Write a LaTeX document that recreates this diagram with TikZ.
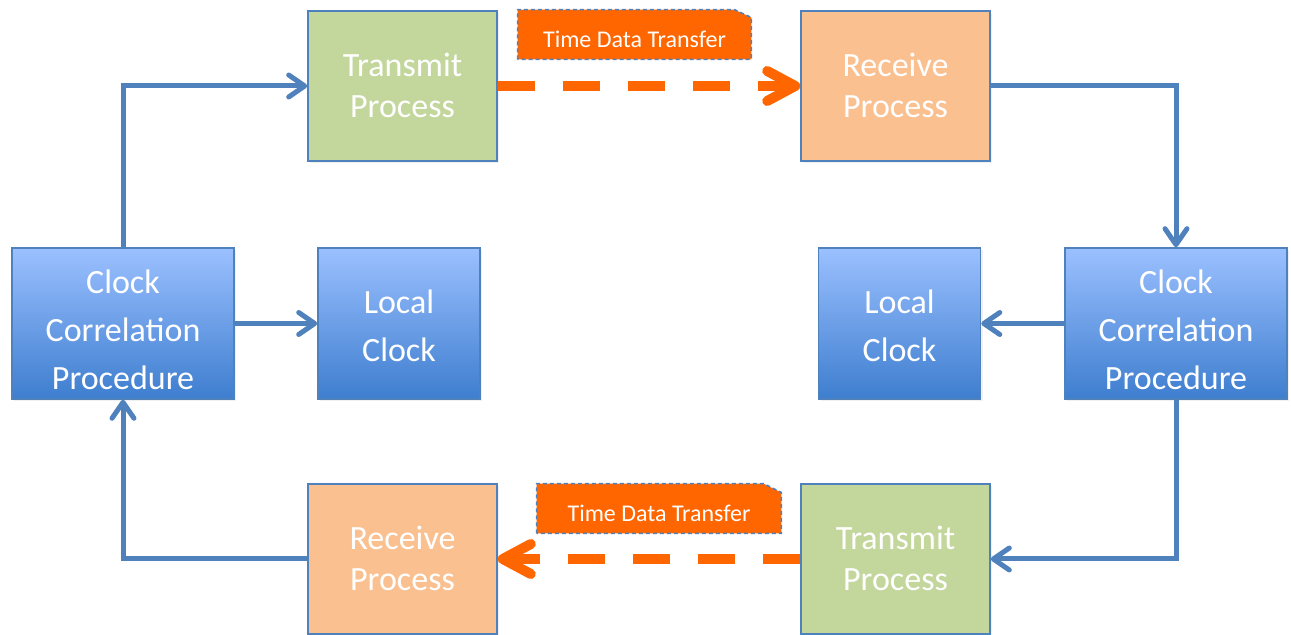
\documentclass[tikz,border=0pt]{standalone}
\usepackage{fontspec}
\setmainfont{Carlito}
\usetikzlibrary{arrows.meta,calc,shadows,backgrounds}
\definecolor{linkblue}{RGB}{79,129,189}
\definecolor{txgreen}{RGB}{195,214,155}
\definecolor{rxorange}{RGB}{250,192,144}
\definecolor{clktop}{RGB}{155,192,255}
\definecolor{clkbottom}{RGB}{62,126,207}
\definecolor{xferorange}{RGB}{255,102,0}

\begin{document}
\begin{tikzpicture}[x=0.5pt,y=-0.5pt,
		blk/.style={draw=linkblue,line width=0.8pt,inner sep=0pt,text=white,align=center,font=\fontsize{17}{24}\selectfont,minimum height=75pt,text height=38.2pt,text depth=0pt,drop shadow={opacity=0.12,shadow xshift=1pt,shadow yshift=-1pt}},
		txbox/.style={blk,fill=txgreen,minimum width=94.5pt,font=\fontsize{17}{20.5}\selectfont,text height=31.3pt},
		rxbox/.style={blk,fill=rxorange,minimum width=94.5pt,font=\fontsize{17}{20.5}\selectfont,text height=31.3pt},
		clkbox/.style={blk,top color=clktop,bottom color=clkbottom,minimum height=75.5pt},
		link/.style={draw=linkblue,line width=2.5pt,-{Straight Barb[length=8pt,width=11pt,round]}},
		xfer/.style={draw=xferorange,line width=5pt,dash pattern=on 18.5pt off 14pt,-{Straight Barb[length=14pt,width=15pt,round]}},
		xferlbl/.style={text=white,font=\fontsize{12}{14}\selectfont,inner sep=0pt,text height=19pt,text depth=5.5pt},
		xferbg/.style={fill=xferorange,draw=linkblue,line width=0.8pt,dash pattern=on 2pt off 1.5pt}]
			\useasboundingbox (0,0) rectangle (1291,635);
			\node[txbox] (tx1) at (402.5,86) {Transmit\\Process};
			\node[rxbox] (rx1) at (895.5,86) {Receive\\Process};
			\node[clkbox,minimum width=111pt,text height=66.5pt] (ccpL) at (123,323.5) {Clock\\Correlation\\Procedure};
			\node[clkbox,minimum width=81pt] (lcL) at (399,323.5) {Local\\Clock};
			\node[clkbox,minimum width=81pt] (lcR) at (899.5,323.5) {Local\\Clock};
			\node[clkbox,minimum width=111pt,text height=66.5pt] (ccpR) at (1176,323.5) {Clock\\Correlation\\Procedure};
			\node[rxbox] (rx2) at (402.5,559) {Receive\\Process};
			\node[txbox] (tx2) at (895.5,559) {Transmit\\Process};
			\node[xferlbl,minimum width=116.5pt] (tdt1) at (634.5,34.5) {Time Data Transfer};
			\node[xferlbl,minimum width=122pt] (tdt2) at (659,508.5) {Time Data Transfer};
			\begin{scope}[on background layer]
				\path[xferbg] (tdt1.south west) |- ($(tdt1.north east)+(-17,0)$) -- ($(tdt1.north east)+(0,8)$) -- (tdt1.south east) -- cycle;
				\path[xferbg] (tdt2.south west) |- ($(tdt2.north east)+(-18,0)$) -- ($(tdt2.north east)+(0,9)$) -- (tdt2.south east) -- cycle;
			\end{scope}
			\draw[link] (ccpL.north) |- (tx1.west);
			\draw[link] (ccpL.east) -- (lcL.west);
			\draw[link] (rx1.east) -| (ccpR.north);
			\draw[link] (ccpR.west) -- (lcR.east);
			\draw[link] (ccpR.south) |- (tx2.east);
			\draw[link] (rx2.west) -| (ccpL.south);
			\draw[xfer] (tx1.east) -- (rx1.west);
			\draw[xfer] (tx2.west) -- (rx2.east);
		\end{tikzpicture}
\end{document}
